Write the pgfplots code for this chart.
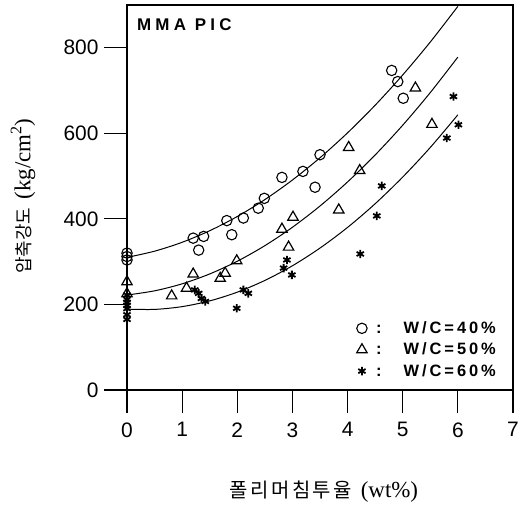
\documentclass[border=0pt]{standalone}
\usepackage{fontspec}
\setmainfont{Liberation Serif}
\newfontfamily\kr{Noto Sans CJK KR}
\newfontfamily\krx[LetterSpace=12]{Noto Sans CJK KR}
\newfontfamily\sansf{Liberation Sans}
\newfontfamily\legfont[LetterSpace=18]{Liberation Sans}
\newfontfamily\titf[LetterSpace=25]{Liberation Sans}
\usepackage{pgfplots}
\pgfplotsset{compat=1.18}
\begin{document}
\begin{tikzpicture}[x=1bp,y=1bp]
\useasboundingbox (0,0) rectangle (532,506);
\begin{axis}[
  at={(127bp,116bp)}, anchor=south west,
  scale only axis, width=386bp, height=385bp,
  xmin=0, xmax=7, ymin=0, ymax=900,
  xtick={0,1,...,7}, ytick={0,200,400,600,800},
  tick pos=left, tick align=outside,
  major tick length=23bp,
  axis line style={line width=1.3pt},
  tick style={line width=1.1pt, black},
  /pgf/number format/assume math mode=true,
  ticklabel style={font=\sansf\fontsize{21}{24}\selectfont},
  xticklabel style={yshift=-6bp},
  yticklabel style={xshift=-2bp},
  clip=false,
  legend style={draw=none, fill=none, at={(axis cs:7,0)}, anchor=south east,
    xshift=-12bp, yshift=8bp,
    font=\legfont\bfseries\fontsize{16.5}{18}\selectfont,
    row sep=4bp, cells={anchor=west}},
  legend cell align=left,
]
% W/C=40%
\addplot[only marks, mark=o, mark size=5.2bp, line width=1.1pt, black]
coordinates {(0,320)(0,304)(0,312)(1.20,355)(1.39,359)(1.30,327)(1.81,396)(1.90,363)
(2.11,402)(2.38,425)(2.49,448)(2.81,497)(3.19,511)(3.41,474)(3.50,550)
(4.80,747)(4.91,721)(5.01,682)};
\addlegendentry{\hspace{7bp}:\hspace{22bp}W/C=40\%}
% W/C=50%
\addplot[only marks, mark=triangle, mark size=6bp, line width=1.2pt, black]
coordinates {(0,253)(0,225)(0.81,220)(1.08,238)(1.20,271)(1.69,261)(1.78,273)(1.99,302)
(2.81,376)(2.93,334)(3.01,404)(3.84,421)(4.02,567)(4.22,513)(5.23,706)(5.53,621)};
\addlegendentry{\hspace{7bp}:\hspace{22bp}W/C=50\%}
% W/C=60%
\addplot[only marks, mark=asterisk, mark size=4.2bp, line width=1.8pt, black]
coordinates {(0,222)(0,212)(0,205)(0,198)(0,190)(0,176)(0,165)
(1.23,234)(1.30,226)(1.35,214)(1.42,207)(1.99,191)(2.11,234)(2.20,226)
(2.84,285)(2.90,304)(2.99,269)(4.23,318)(4.53,407)(4.62,477)
(5.80,589)(5.92,686)(6.01,620)};
\addlegendentry{\hspace{7bp}:\hspace{22bp}W/C=60\%}
% fitted curves
\addplot[smooth, line width=1pt, black, forget plot] coordinates {
(0,310)(0.5,324.5)(1,345.3)(1.5,372.3)(2,405.6)(2.5,445.1)(3,490.9)(3.5,542.9)
(4,601.2)(4.5,665.7)(5,736.5)(5.5,813.5)(6,896.8)};
\addplot[smooth, line width=1pt, black, forget plot] coordinates {
(0,222)(0.5,231.8)(1,248.2)(1.5,271.3)(2,301)(2.5,337.4)(3,380.4)(3.5,430.1)
(4,486.4)(4.5,549.4)(5,619)(5.5,695.3)(6,778.2)};
\addplot[smooth, line width=1pt, black, forget plot] coordinates {
(0,189)(0.5,188.4)(1,194.9)(1.5,208.3)(2,228.7)(2.5,256.1)(3,290.4)(3.5,331.8)
(4,380.1)(4.5,435.4)(5,497.8)(5.5,567)(6,643.3)};
\node[anchor=west, inner sep=0pt, font=\titf\bfseries\fontsize{17}{19}\selectfont] at (axis cs:0.18,853) {MMA PIC};
\end{axis}
\node at (324,14) {{\krx\fontsize{20}{23}\selectfont 폴리머침투율}\hspace{9bp}{\fontsize{23}{26}\selectfont(wt\%)}};
\node[rotate=90] at (23,310) {{\kr\fontsize{18}{21}\selectfont 압축강도}\hspace{8bp}{\fontsize{23}{26}\selectfont(kg/cm\textsuperscript{2})}};
\end{tikzpicture}
\end{document}
